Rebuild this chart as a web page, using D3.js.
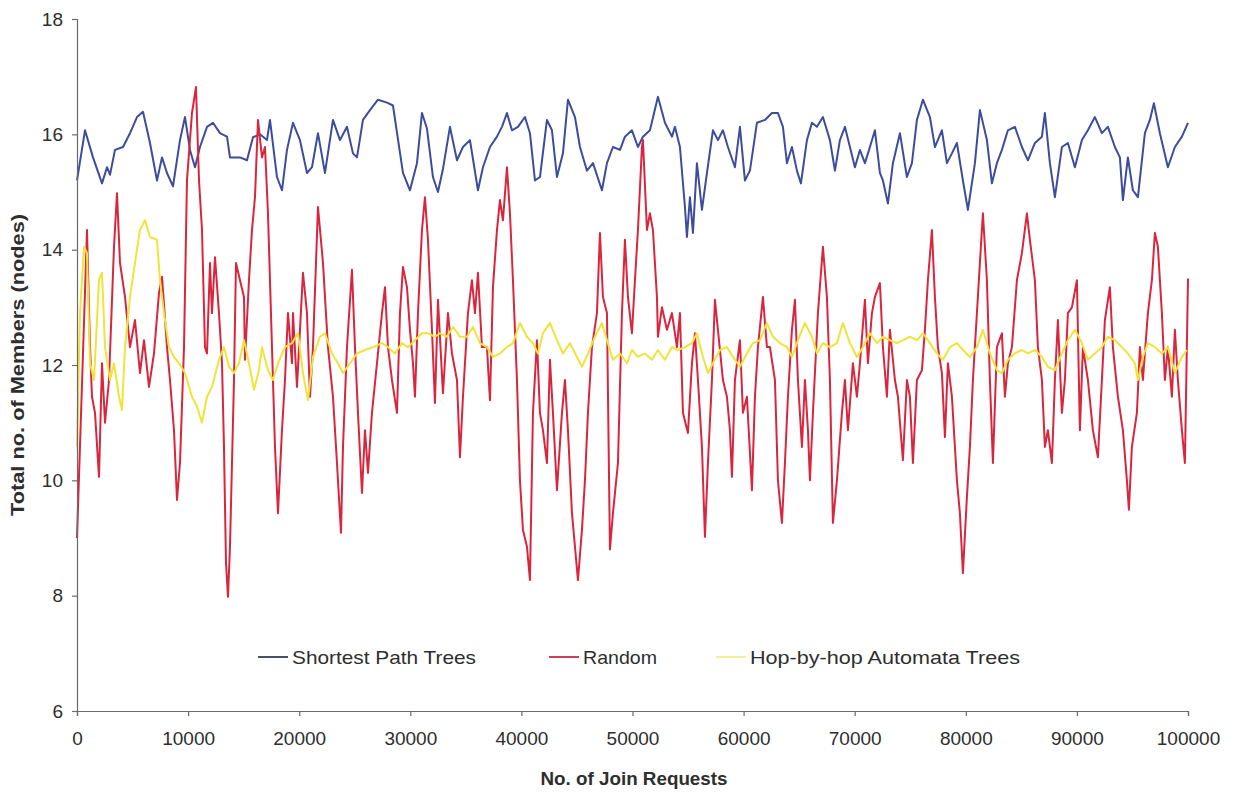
<!DOCTYPE html>
<html>
<head>
<meta charset="utf-8">
<script src="https://cdn.jsdelivr.net/npm/d3@7"></script>
<style>
body { margin: 0; background: #ffffff; }
text { font-family: "Liberation Sans", Arial, sans-serif; }
</style>
</head>
<body>
<svg id="mysvg" width="1239" height="793"></svg>
<script>

// tick labels
var xTicks = [0, 10000, 20000, 30000, 40000, 50000, 60000, 70000, 80000, 90000, 100000];
var yTicks = [6, 8, 10, 12, 14, 16, 18];

var seriesNames = ["Shortest Path Trees", "Random", "Hop-by-hop Automata Trees"];

// [join requests, members]
var shortestPath = [
	[0,15.2],[720,16.07],[1440,15.6],[2250,15.15],[2700,15.43],[2970,15.3],[3420,15.73],[4140,15.78],[4770,16.02],
	[5400,16.3],[5940,16.39],[6570,15.85],[7200,15.2],[7650,15.6],[8100,15.33],[8640,15.1],[9270,15.9],[9720,16.3],
	[10170,15.73],[10620,15.43],[11070,15.78],[11700,16.13],[12240,16.2],[12870,16.02],[13500,15.96],[13770,15.6],
	[14670,15.6],[15300,15.55],[15840,15.95],[16470,16.0],[17100,15.9],[17370,16.25],[18000,15.26],[18450,15.03],
	[18900,15.73],[19440,16.2],[20070,15.9],[20700,15.33],[21150,15.43],[21690,16.02],[22320,15.33],[23040,16.25],
	[23670,15.9],[24300,16.13],[24840,15.67],[25200,15.6],[25740,16.25],[26370,16.42],[27090,16.6],[27900,16.55],
	[28440,16.5],[29340,15.33],[29970,15.03],[30600,15.5],[31050,16.37],[31500,16.1],[32040,15.26],[32490,15.0],
	[32940,15.4],[33570,16.13],[34200,15.55],[34740,15.78],[35370,15.9],[36090,15.03],[36540,15.43],[37170,15.78],
	[37800,15.96],[38250,16.13],[38700,16.37],[39150,16.07],[39690,16.13],[40320,16.3],[40770,16.02],[41220,15.2],
	[41670,15.26],[42300,16.25],[42750,16.07],[43200,15.26],[43740,15.67],[44190,16.6],[44820,16.3],[45270,15.78],
	[45900,15.37],[46440,15.5],[47250,15.03],[47700,15.5],[48240,15.78],[48870,15.73],[49320,15.96],[49950,16.07],
	[50490,15.78],[50940,15.96],[51570,16.07],[52290,16.65],[52920,16.2],[53550,15.96],[53820,16.13],[54270,15.78],
	[54720,14.74],[54900,14.22],[55170,14.91],[55440,14.29],[55800,15.5],[56250,14.69],[56700,15.33],[57240,16.07],
	[57690,15.9],[58140,16.07],[58590,15.78],[59220,15.43],[59670,16.13],[60120,15.2],[60570,15.37],[61200,16.2],
	[61920,16.25],[62550,16.37],[63090,16.37],[63540,16.13],[63900,15.5],[64350,15.78],[64800,15.37],[65160,15.15],
	[65700,15.9],[66150,16.2],[66600,16.13],[67140,16.3],[67770,15.9],[68220,15.37],[68670,15.9],[69120,16.13],
	[69570,15.78],[70020,15.43],[70470,15.73],[70920,15.5],[71370,15.78],[71820,16.07],[72270,15.33],[72540,15.2],
	[72990,14.8],[73440,15.5],[74070,16.02],[74700,15.26],[75150,15.5],[75600,16.25],[76140,16.6],[76770,16.3],
	[77220,15.78],[77850,16.07],[78300,15.5],[78750,15.67],[79200,15.85],[79740,15.2],[80190,14.69],[80820,15.5],
	[81270,16.42],[81900,15.9],[82350,15.15],[82800,15.5],[83250,15.73],[83790,16.07],[84420,16.13],[85050,15.78],
	[85590,15.55],[86220,15.85],[86850,15.96],[87120,16.37],[87570,15.5],[88020,14.91],[88650,15.78],[89190,15.85],
	[89820,15.43],[90450,15.9],[90990,16.07],[91620,16.3],[92250,16.02],[92790,16.13],[93420,15.78],[93870,15.6],
	[94140,14.86],[94590,15.6],[95040,15.03],[95490,14.91],[96120,16.02],[96570,16.25],[96930,16.54],[97470,16.02],
	[98190,15.43],[98820,15.78],[99450,15.96],[100000,16.2]
];

var randomTree = [
	[0,9.0],[900,14.34],[1170,12.31],[1350,11.45],[1620,11.17],[1980,10.06],[2250,12.03],[2520,11.0],[2880,11.74],
	[3330,14.05],[3600,14.98],[3870,13.77],[4320,13.18],[4770,12.31],[5220,12.78],[5670,11.86],[6030,12.43],
	[6480,11.62],[6930,12.2],[7380,13.25],[7650,13.53],[8100,12.31],[8370,11.74],[8730,10.87],[9000,9.66],
	[9270,10.3],[9630,12.31],[9900,15.21],[10350,16.37],[10710,16.82],[10980,15.21],[11250,14.34],[11520,12.31],
	[11700,12.2],[11970,13.77],[12150,12.9],[12420,13.87],[12780,12.9],[13050,12.03],[13230,10.58],[13410,8.57],
	[13590,7.98],[13770,8.85],[14130,11.74],[14310,13.77],[14670,13.47],[15030,13.18],[15120,12.09],[15480,13.47],
	[15750,14.34],[16020,14.91],[16290,16.25],[16650,15.6],[16920,15.78],[17190,14.63],[17550,12.31],[17820,10.58],
	[18090,9.43],[18450,10.87],[18720,11.74],[18990,12.9],[19350,12.03],[19440,12.9],[19800,11.62],[20070,12.61],
	[20340,13.6],[20700,12.9],[20970,11.45],[21240,12.31],[21690,14.74],[22140,13.77],[22590,12.31],[23040,11.45],
	[23400,10.3],[23760,9.09],[23940,10.58],[24300,12.31],[24750,13.65],[25020,12.31],[25290,11.17],[25650,9.78],
	[25920,10.87],[26190,10.13],[26550,11.17],[27000,12.03],[27450,12.9],[27720,13.35],[27990,12.31],[28350,11.74],
	[28800,11.17],[29070,12.9],[29340,13.7],[29700,13.35],[29970,12.61],[30240,12.03],[30420,11.45],[30690,12.9],
	[31050,14.34],[31320,14.91],[31590,14.17],[31950,12.61],[32220,11.34],[32490,13.13],[32940,11.51],[33390,12.9],
	[33750,12.2],[34200,11.74],[34470,10.4],[34740,11.45],[35190,12.9],[35550,13.47],[35820,12.9],[36090,13.6],
	[36450,12.31],[36900,12.31],[37170,11.39],[37440,13.35],[37800,14.34],[38070,14.86],[38340,14.51],[38700,15.43],
	[38970,14.63],[39240,13.47],[39600,11.74],[39870,10.0],[40140,9.14],[40500,8.85],[40770,8.27],[41040,11.17],
	[41400,12.43],[41670,11.17],[41940,10.87],[42300,10.3],[42570,12.09],[42840,11.17],[43200,9.83],[43650,11.17],
	[43920,11.74],[44190,10.87],[44550,9.43],[44820,8.85],[45090,8.27],[45450,9.14],[45720,10.0],[45990,11.17],
	[46350,12.31],[46800,12.9],[47070,14.29],[47340,13.18],[47700,12.9],[47970,8.8],[48240,9.43],[48690,10.3],
	[49050,12.9],[49320,14.17],[49590,13.18],[49950,12.55],[50220,13.47],[50490,14.34],[50850,15.78],[50940,15.9],
	[51300,14.34],[51570,14.63],[51840,14.34],[52200,13.18],[52290,12.49],[52650,13.0],[53100,12.61],[53550,12.9],
	[54000,12.31],[54270,12.9],[54540,11.17],[54990,10.82],[55350,12.03],[55620,12.55],[55890,11.74],[56250,10.58],
	[56520,9.02],[56790,10.3],[57150,11.74],[57420,13.13],[57690,12.61],[58140,11.74],[58500,11.45],[58770,10.87],
	[58950,10.06],[59220,11.74],[59670,12.43],[59940,11.17],[60300,11.45],[60750,9.83],[61020,11.45],[61290,12.31],
	[61740,13.18],[62100,12.31],[62370,12.31],[62820,11.74],[63090,10.0],[63450,9.26],[63720,10.3],[63990,11.45],
	[64350,12.61],[64620,13.13],[64890,11.74],[65250,10.58],[65520,11.74],[65790,10.87],[65970,10.0],[66240,11.17],
	[66690,12.9],[67140,14.05],[67500,13.18],[67770,11.74],[68040,9.26],[68400,10.0],[68850,11.17],[69120,11.74],
	[69390,10.87],[69840,12.03],[70200,11.45],[70470,12.03],[70920,13.13],[71190,12.03],[71550,12.9],[71820,13.18],
	[72270,13.42],[72540,12.31],[72900,11.45],[73170,12.61],[73620,11.74],[73890,11.45],[74340,10.35],[74700,11.74],
	[74970,11.45],[75240,10.3],[75600,11.74],[76050,11.91],[76320,12.61],[76590,13.47],[76950,14.34],[77220,13.18],
	[77490,12.31],[77850,11.86],[78120,10.75],[78390,12.03],[78750,11.45],[79200,10.0],[79470,9.43],[79740,8.39],
	[80100,9.71],[80370,10.58],[80640,11.74],[81000,12.9],[81270,13.77],[81540,14.63],[81900,13.47],[82170,11.74],
	[82440,10.3],[82800,12.31],[83250,12.55],[83520,11.45],[83790,12.03],[84150,12.31],[84600,13.47],[85050,13.94],
	[85500,14.63],[85770,14.17],[86220,13.47],[86490,12.31],[86850,11.74],[87120,10.58],[87390,10.87],[87750,10.3],
	[88020,11.74],[88290,12.78],[88650,11.17],[88920,11.74],[89190,12.9],[89550,13.0],[90000,13.47],[90270,10.87],
	[90540,12.31],[90990,11.74],[91440,10.87],[91890,10.4],[92250,11.74],[92520,12.78],[92970,13.35],[93240,12.31],
	[93690,11.45],[94140,10.87],[94500,10.0],[94680,9.49],[94950,10.58],[95400,11.17],[95670,12.31],[95940,11.74],
	[96390,12.9],[96750,13.47],[97020,14.29],[97290,14.05],[97650,12.9],[97920,11.74],[98190,12.31],[98550,11.45],
	[98820,12.61],[99090,11.74],[99450,10.87],[99720,10.3],[100000,13.5]
];

var hopByHop = [
	[0,10.58],[270,12.9],[630,14.05],[900,13.94],[1170,12.03],[1530,11.74],[1980,13.47],[2250,13.6],[2520,12.31],
	[2970,11.74],[3330,12.03],[3780,11.45],[4050,11.22],[4320,12.31],[4770,13.18],[5220,13.77],[5670,14.34],
	[6120,14.51],[6570,14.22],[7200,14.17],[7470,13.47],[7830,12.9],[8280,12.31],[8730,12.14],[9180,12.03],
	[9720,11.86],[10350,11.45],[10800,11.28],[11250,11.0],[11700,11.45],[12150,11.62],[12780,12.09],[13230,12.31],
	[13680,11.97],[14130,11.86],[14580,12.03],[15030,12.43],[15480,12.03],[15930,11.57],[16380,11.91],[16650,12.31],
	[17190,11.91],[17640,11.74],[18090,12.03],[18720,12.31],[19350,12.38],[19890,12.55],[20340,11.86],[20790,11.39],
	[21240,12.14],[21870,12.49],[22320,12.55],[22950,12.2],[23490,12.03],[23940,11.86],[24570,12.03],[25200,12.2],
	[25920,12.26],[26640,12.31],[27450,12.38],[27990,12.31],[28620,12.2],[29250,12.38],[29790,12.31],[30420,12.43],
	[31050,12.55],[31590,12.55],[32220,12.49],[32670,12.55],[33300,12.49],[33840,12.66],[34470,12.49],[35100,12.49],
	[35640,12.66],[36270,12.38],[36900,12.31],[37440,12.14],[38070,12.2],[38700,12.31],[39240,12.38],[39870,12.73],
	[40500,12.49],[41040,12.38],[41490,12.2],[41940,12.55],[42570,12.73],[43200,12.43],[43740,12.2],[44370,12.38],
	[45000,12.14],[45450,11.97],[45990,12.2],[46620,12.49],[47250,12.73],[47700,12.43],[48240,12.09],[48870,12.2],
	[49500,12.03],[49950,12.26],[50490,12.14],[51120,12.2],[51750,12.09],[52290,12.26],[52920,12.09],[53550,12.31],
	[54090,12.26],[54720,12.31],[55350,12.38],[55800,12.55],[56340,12.14],[56790,11.86],[57240,12.03],[57870,12.26],
	[58500,12.31],[59040,12.14],[59670,11.97],[60300,12.2],[60840,12.38],[61470,12.43],[62100,12.73],[62640,12.49],
	[63270,12.38],[63900,12.31],[64350,12.14],[64890,12.43],[65520,12.73],[66150,12.49],[66600,12.2],[67140,12.38],
	[67770,12.31],[68400,12.38],[68940,12.73],[69570,12.38],[70200,12.14],[70740,12.31],[71370,12.55],[72000,12.38],
	[72540,12.49],[73170,12.43],[73800,12.38],[74340,12.43],[74970,12.49],[75600,12.43],[76140,12.55],[76770,12.38],
	[77400,12.2],[77940,12.09],[78570,12.31],[79200,12.38],[79740,12.26],[80370,12.14],[81000,12.31],[81540,12.61],
	[82170,12.2],[82800,11.91],[83250,11.86],[83790,12.09],[84420,12.2],[85050,12.26],[85590,12.2],[86220,12.26],
	[86850,12.14],[87390,11.97],[88020,11.91],[88650,12.2],[89190,12.43],[89820,12.61],[90450,12.38],[90990,12.09],
	[91620,12.2],[92250,12.31],[92790,12.49],[93420,12.43],[94050,12.31],[94590,12.2],[95220,12.03],[95490,11.74],
	[95940,12.14],[96390,12.38],[97020,12.31],[97650,12.2],[98190,12.31],[98820,11.86],[99450,12.14],[99900,12.26]
];

var seriesColors = ["#3d4c9c", "#d9263f", "#f0e33a"];
var legendColors = ["#4a4f6e", "#c8405e", "#f2ee9a"];

function ChartMaker () {

	var svg = d3.select("#mysvg");

	var left = 77, right = 1188, top = 19, bottom = 711;

	var x = d3.scaleLinear().domain([0, 100000]).range([left, right]);
	var y = d3.scaleLinear().domain([6, 18]).range([bottom, top]);

	var plot = svg.append("g");

	var line = d3.line()
			.x(function (d) { return x(d[0]); })
			.y(function (d) { return y(d[1]); });

	var allSeries = [shortestPath, randomTree, hopByHop];

	// draw in the same order the picture stacks them
	[0, 1, 2].forEach(function (i) {
		plot.append("path")
			.datum(allSeries[i])
			.attr("fill", "none")
			.attr("stroke", seriesColors[i])
			.attr("stroke-width", 2)
			.attr("stroke-linejoin", "round")
			.attr("d", line);
	});

	var yAxis = svg.append("g")
			.attr("transform", "translate(" + left + ",0)")
			.call(d3.axisLeft(y).tickValues(yTicks).tickSize(5).tickPadding(9));

	var xAxis = svg.append("g")
			.attr("transform", "translate(0," + bottom + ")")
			.call(d3.axisBottom(x).tickValues(xTicks).tickSize(5).tickPadding(16).tickFormat(d3.format("d")));

	svg.selectAll(".domain , .tick line")
			.attr("stroke", "#6a6a6a")
			.attr("stroke-width", 1.2);

	svg.selectAll(".tick text")
			.attr("fill", "#2e2e2e")
			.attr("font-size", 19)
			.attr("font-family", "Liberation Sans, Arial, sans-serif");

	// y axis title
	svg.append("text")
			.attr("transform", "translate(24," + 365 + ") rotate(-90)")
			.attr("text-anchor", "middle")
			.attr("font-size", 18)
			.attr("font-weight", "bold")
			.attr("fill", "#2e2e2e")
			.attr("textLength", 302)
			.attr("lengthAdjust", "spacingAndGlyphs")
			.text("Total no. of Members (nodes)");

	// x axis title
	svg.append("text")
			.attr("x", 634)
			.attr("y", 785)
			.attr("text-anchor", "middle")
			.attr("font-size", 18)
			.attr("font-weight", "bold")
			.attr("fill", "#2e2e2e")
			.attr("textLength", 187)
			.attr("lengthAdjust", "spacingAndGlyphs")
			.text("No. of Join Requests");

	// legend
	var legendX = [258, 549, 716];
	var legendW = [184, 74, 270];
	var legend = svg.append("g");

	seriesNames.forEach(function (name, i) {
		legend.append("line")
			.attr("x1", legendX[i])
			.attr("x2", legendX[i] + 30)
			.attr("y1", 657)
			.attr("y2", 657)
			.attr("stroke", legendColors[i])
			.attr("stroke-width", 2);

		legend.append("text")
			.attr("x", legendX[i] + 34)
			.attr("y", 664)
			.attr("font-size", 19)
			.attr("fill", "#2e2e2e")
			.attr("textLength", legendW[i])
			.attr("lengthAdjust", "spacingAndGlyphs")
			.text(name);
	});
}

ChartMaker();
</script>
</body>
</html>
